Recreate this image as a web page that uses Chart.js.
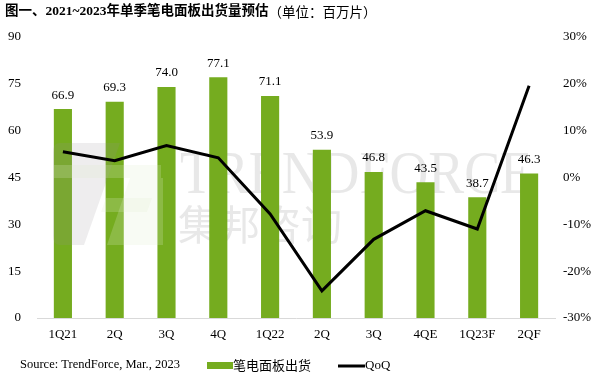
<!DOCTYPE html>
<html>
<head>
<meta charset="utf-8">
<script src="https://cdn.jsdelivr.net/npm/chart.js@4.4.0/dist/chart.umd.min.js"></script>
<style>
  html, body { margin: 0; padding: 0; background: #fff; }
  #wrap { position: relative; width: 607px; height: 378px; }
</style>
</head>
<body>
<div id="wrap"><canvas id="chart"></canvas></div>
<script>
const quarters = ['1Q21', '2Q', '3Q', '4Q', '1Q22', '2Q', '3Q', '4QE', '1Q23F', '2QF'];
const shipments = [66.9, 69.3, 74.0, 77.1, 71.1, 53.9, 46.8, 43.5, 38.7, 46.3];
const qoq = [5.5, 3.6, 6.8, 4.2, -7.8, -24.2, -13.2, -7.1, -11.0, 19.6];
const leftTicks = [0, 15, 30, 45, 60, 75, 90];
const rightTicks = [-30, -20, -10, 0, 10, 20, 30];

const titleMain = '图一、2021~2023年单季笔电面板出货量预估';
const titleUnit = '（单位：百万片）';
const sourceText = 'Source: TrendForce, Mar., 2023';

const green = '#75AC1F';
const serif = "'Liberation Serif', 'Noto Sans CJK SC', serif";
const cjk = "'Noto Sans CJK SC', sans-serif";

// watermark behind the bars
const watermark = {
    id: 'watermark',
    beforeDatasetsDraw(chart) {
        const ctx = chart.ctx;
        ctx.save();
        ctx.fillStyle = 'rgba(205, 205, 205, 0.45)';
        ctx.font = "62px " + serif;
        ctx.textBaseline = 'alphabetic';
        // squeeze the word into the width it has in the picture
        const tw = ctx.measureText('TRENDFORCE').width;
        ctx.translate(180, 193);
        ctx.scale(353 / tw, 1);
        ctx.fillText('TRENDFORCE', 0, 0);
        ctx.setTransform(1, 0, 0, 1, 0, 0);
        ctx.font = "41px " + cjk;
        ctx.fillText('集邦咨询', 178, 240);
        ctx.restore();
    },
    // logo drawn over the bars but under the line
    beforeDatasetDraw(chart, args) {
        if (chart.data.datasets[args.index].type !== 'line') return;
        const ctx = chart.ctx;
        ctx.save();
        ctx.fillStyle = 'rgba(150, 140, 150, 0.16)';
        ctx.beginPath();
        ctx.moveTo(60, 143);
        ctx.lineTo(120, 143);
        ctx.lineTo(84, 245);
        ctx.lineTo(60, 245);
        ctx.quadraticCurveTo(53, 245, 53, 236);
        ctx.lineTo(53, 152);
        ctx.quadraticCurveTo(53, 143, 60, 143);
        ctx.fill();
        ctx.fillStyle = 'rgba(225, 238, 205, 0.22)';
        ctx.fillRect(53, 165, 108, 13);
        ctx.beginPath();
        ctx.moveTo(106, 198);
        ctx.lineTo(152, 198);
        ctx.lineTo(147, 212);
        ctx.lineTo(101, 212);
        ctx.fill();
        ctx.beginPath();
        ctx.moveTo(130, 178);
        ctx.lineTo(163, 178);
        ctx.lineTo(163, 245);
        ctx.lineTo(107, 245);
        ctx.fill();
        ctx.restore();
    }
};

const decorations = {
    id: 'decorations',
    afterDatasetsDraw(chart) {
        const ctx = chart.ctx;
        ctx.save();
        // bar value labels
        const meta = chart.getDatasetMeta(0);
        ctx.fillStyle = '#000';
        ctx.font = "13px " + serif;
        ctx.textAlign = 'center';
        ctx.textBaseline = 'middle';
        meta.data.forEach((bar, i) => {
            ctx.fillText(shipments[i].toFixed(1), bar.x, bar.y - 14);
        });
        ctx.restore();
    },
    afterDraw(chart) {
        const ctx = chart.ctx;
        ctx.save();
        // title
        ctx.fillStyle = '#000';
        ctx.textBaseline = 'middle';
        ctx.textAlign = 'left';
        ctx.font = "bold 13.5px " + serif;
        ctx.fillText(titleMain, 5, 12);
        const w = ctx.measureText(titleMain).width;
        ctx.font = "13.5px " + cjk;
        ctx.fillText(titleUnit, 5 + w, 12);

        // source
        ctx.font = "12.5px " + serif;
        ctx.fillText(sourceText, 20, 365);

        // legend
        ctx.fillStyle = green;
        ctx.fillRect(207, 362, 26, 7);
        ctx.fillStyle = '#000';
        ctx.font = "13px " + cjk;
        ctx.fillText(chart.data.datasets[0].label, 233, 365);
        ctx.strokeStyle = '#000';
        ctx.lineWidth = 3;
        ctx.beginPath();
        ctx.moveTo(338, 366);
        ctx.lineTo(365, 366);
        ctx.stroke();
        ctx.font = "13px " + serif;
        ctx.fillText(chart.data.datasets[1].label, 365, 366);
        ctx.restore();
    }
};

const ctx = document.getElementById('chart').getContext('2d');
new Chart(ctx, {
    data: {
        labels: quarters,
        datasets: [
            {
                type: 'bar',
                label: '笔电面板出货',
                data: shipments,
                backgroundColor: green,
                yAxisID: 'y',
                barPercentage: 0.7,
                categoryPercentage: 0.5,
                order: 2
            },
            {
                type: 'line',
                label: 'QoQ',
                data: qoq,
                borderColor: '#000',
                borderWidth: 3,
                pointRadius: 0,
                tension: 0,
                yAxisID: 'y1',
                order: 1
            }
        ]
    },
    plugins: [watermark, decorations],
    options: {
        responsive: true,
        maintainAspectRatio: false,
        animation: false,
        layout: { padding: { top: 37, left: 0, right: 0, bottom: 0 } },
        plugins: {
            legend: { display: false },
            title: { display: false },
            tooltip: { enabled: false }
        },
        scales: {
            x: {
                offset: true,
                grid: { display: false, drawTicks: false },
                border: { display: true, color: '#d9d9d9', width: 1 },
                ticks: {
                    color: '#000',
                    font: { family: serif, size: 13 },
                    padding: 9,
                    maxRotation: 0,
                    autoSkip: false
                },
                afterFit(scale) { scale.height = 60; }
            },
            y: {
                position: 'left',
                min: 0,
                max: 90,
                afterBuildTicks(scale) { scale.ticks = leftTicks.map(v => ({ value: v })); },
                grid: { display: false, drawTicks: false },
                border: { display: false },
                ticks: {
                    color: '#000',
                    font: { family: serif, size: 13 },
                    padding: 16
                },
                afterFit(scale) { scale.width = 37; }
            },
            y1: {
                position: 'right',
                min: -30,
                max: 30,
                afterBuildTicks(scale) { scale.ticks = rightTicks.map(v => ({ value: v })); },
                grid: { display: false, drawTicks: false },
                border: { display: false },
                ticks: {
                    color: '#000',
                    font: { family: serif, size: 13 },
                    padding: 8,
                    callback: v => v + '%'
                },
                afterFit(scale) { scale.width = 52; }
            }
        }
    }
});
</script>
</body>
</html>
